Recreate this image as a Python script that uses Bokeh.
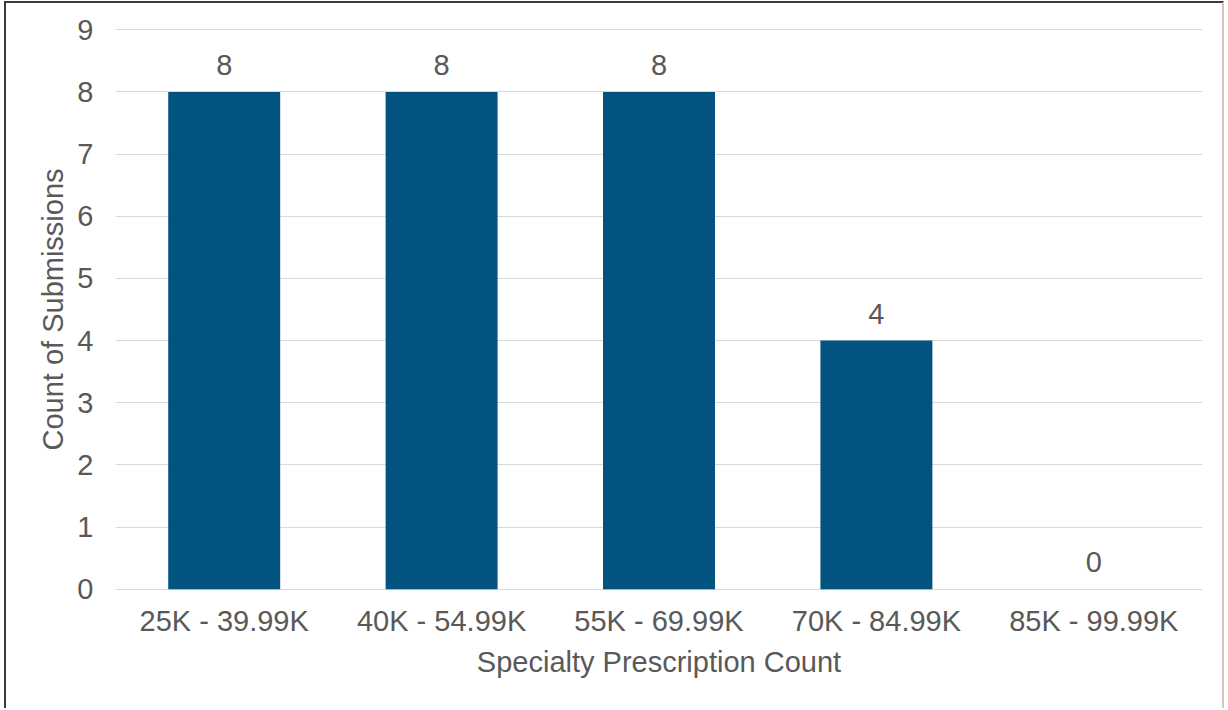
from bokeh.plotting import figure
from bokeh.models import ColumnDataSource, Range1d, FixedTicker
from bokeh.core.properties import value
from bokeh.embed import file_html
from bokeh.resources import INLINE

# Submissions per specialty prescription count band
categories = ["25K - 39.99K", "40K - 54.99K", "55K - 69.99K", "70K - 84.99K", "85K - 99.99K"]
counts = [8, 8, 8, 4, 0]
y_ticks = [0, 1, 2, 3, 4, 5, 6, 7, 8, 9]

FONT = "Liberation Sans"
TEXT = "#595959"
BAR = "#02537F"

source = ColumnDataSource(data=dict(
    cat=categories,
    count=counts,
    label=[str(c) for c in counts],
))

# small padding so the 0 and 9 grid lines are not clipped by the frame
p = figure(
    x_range=categories,
    y_range=Range1d(-0.02, 9.02),
    width=1220,
    height=707,
    output_backend="svg",
    toolbar_location=None,
    min_border_left=109,
    min_border_right=24,
    min_border_top=25,
    min_border_bottom=120,
)
p.styles = {
    "margin-left": "4px",
    "margin-top": "1px",
    "border-left": "2px solid #3a3a3a",
    "border-top": "2px solid #3a3a3a",
    "border-right": "2px solid #c8c8c8",
}
p.outline_line_color = None
p.background_fill_color = "white"
p.border_fill_color = "white"

p.vbar(x="cat", top="count", bottom=0, width=0.515, source=source,
       fill_color=BAR, line_color=None)

p.text(x="cat", y="count", text="label", source=source,
       text_align="center", text_baseline="alphabetic", y_offset=-27,
       text_font=value(FONT), text_font_size="29px", text_color=TEXT)

# Grid
p.xgrid.grid_line_color = None
p.ygrid.grid_line_color = "#D9D9D9"
p.ygrid.grid_line_width = 1
p.yaxis.ticker = FixedTicker(ticks=y_ticks)

# Axes
for ax in (p.xaxis[0], p.yaxis[0]):
    ax.axis_line_color = None
    ax.major_tick_line_color = None
    ax.minor_tick_line_color = None
    ax.major_tick_out = 0
    ax.major_tick_in = 0
    ax.major_label_text_font = FONT
    ax.major_label_text_font_size = "29px"
    ax.major_label_text_color = TEXT
    ax.axis_label_text_font = FONT
    ax.axis_label_text_font_size = "29px"
    ax.axis_label_text_color = TEXT
    ax.axis_label_text_font_style = "normal"

p.xaxis.axis_label = "Specialty Prescription Count"
p.yaxis.axis_label = "Count of Submissions"
p.xaxis.major_label_standoff = 14
p.xaxis.axis_label_standoff = 6
p.yaxis.major_label_standoff = 22
p.yaxis.axis_label_standoff = 5

open("out.html", "w").write(file_html(p, INLINE))
